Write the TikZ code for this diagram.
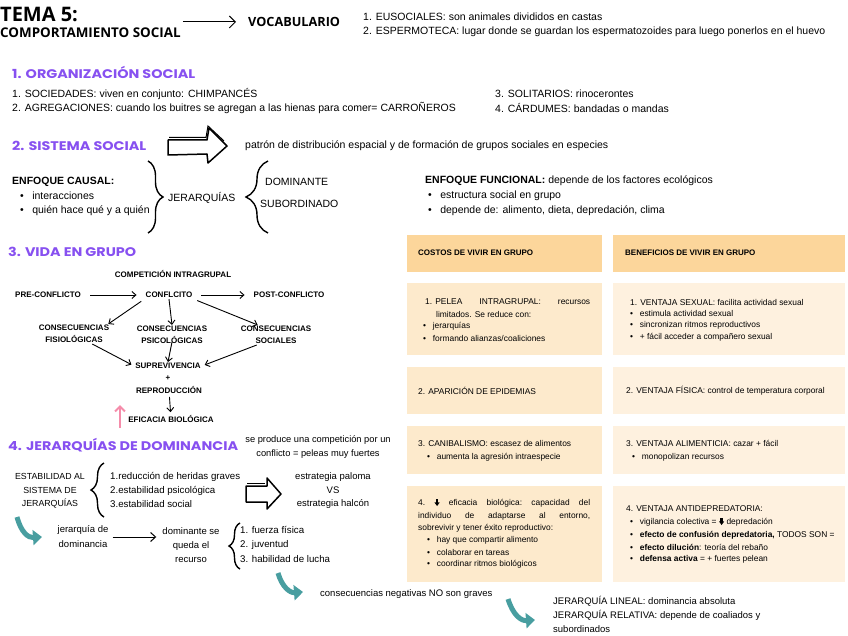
\documentclass[tikz,border=0pt]{standalone}
\usepackage{fontspec}
\setmainfont{Liberation Sans}
\newfontfamily\titlefont{Open Sans}
\newfontfamily\headfont{Poppins}[FakeStretch=1.15]
\usetikzlibrary{arrows.meta,positioning,decorations.pathreplacing}
\definecolor{HeadPurple}{RGB}{135,80,240}
\definecolor{TealArr}{RGB}{72,158,160}
\definecolor{PinkArr}{RGB}{245,140,170}
\definecolor{HeadFill}{RGB}{252,214,155}
\definecolor{CostFill}{RGB}{253,234,204}
\definecolor{BenFill}{RGB}{254,241,223}
\newcommand{\bul}{\makebox[1.15em][l]{\textbullet}}
\newcommand{\dnarr}{\tikz[baseline=0pt]{\fill (0.2pt,7pt) rectangle (2.6pt,3pt);
	\fill (-1.2pt,3.2pt) -- (4pt,3.2pt) -- (1.4pt,-0.4pt) -- cycle;}}
\tikzset{
	txt/.style={anchor=west, inner sep=0pt, font=\fontsize{10.5}{12}\selectfont},
	smtxt/.style={inner sep=0pt, align=center, font=\fontsize{9.3}{14}\selectfont},
	tabtxt/.style={anchor=west, inner sep=0pt, font=\fontsize{8.4}{9}\selectfont},
	tabhead/.style={anchor=west, inner sep=0pt, font=\bfseries\fontsize{8}{9}\selectfont},
	flow/.style={inner sep=1pt, align=center, font=\bfseries\fontsize{8}{12}\selectfont},
	head/.style={anchor=west, inner sep=0pt, text=HeadPurple, font=\headfont\bfseries\fontsize{12.5}{14}\selectfont},
	cell/.style={anchor=north west, inner sep=0pt, draw=none},
	flowarr/.style={-{Straight Barb[length=4pt,width=7pt]}, line width=0.9pt},
	tealarr/.style={draw=TealArr, line width=5pt, -{Triangle[length=9pt,width=15pt]}},
	brc/.style={decorate, decoration={brace, amplitude=#1}, line width=1.4pt},
	blockarr/.style={draw=black, line width=1.5pt, fill=white, line join=round}
}
\begin{document}
\begin{tikzpicture}[x=1pt, y=-1pt]
	\useasboundingbox (0,0) rectangle (848,636);
	% title and vocabulary
	\node[anchor=west, inner sep=0pt, font=\titlefont\bfseries\fontsize{20}{22}\selectfont] (tema) at (0,14) {TEMA 5:};
	\node[anchor=west, inner sep=0pt, font=\titlefont\bfseries\fontsize{13.4}{14}\selectfont] (compsoc) at (0,33) {COMPORTAMIENTO SOCIAL};
	\node[anchor=west, inner sep=0pt, font=\titlefont\bfseries\fontsize{12.7}{14}\selectfont] (vocab) at (248,22) {VOCABULARIO};
	\draw[-{Straight Barb[length=6pt,width=12pt]}, line width=1pt, shorten <=2pt, shorten >=12pt] (compsoc.east |- vocab.west) -- (vocab.west);
	\node[txt] (voc1) at (363,17) {1. EUSOCIALES: son animales divididos en castas};
	\node[txt] (voc2) at (363,32) {2. ESPERMOTECA: lugar donde se guardan los espermatozoides para luego ponerlos en el huevo};
	% 1. organizacion social
	\node[head] (h1) at (12,72) {1. ORGANIZACIÓN SOCIAL};
	\node[txt] (org1) at (12,94) {1. SOCIEDADES: viven en conjunto: CHIMPANCÉS};
	\node[txt] (org2) at (12,108) {2. AGREGACIONES: cuando los buitres se agregan a las hienas para comer= CARROÑEROS};
	\node[txt] (org3) at (495,94) {3. SOLITARIOS: rinocerontes};
	\node[txt] (org4) at (495,108) {4. CÁRDUMES: bandadas o mandas};
	% 2. sistema social
	\node[head] (h2) at (12,146) {2. SISTEMA SOCIAL};
	\draw[blockarr] (168,140) -- (207,140) -- (209,128) -- (227,146) -- (208,163) -- (207,154) -- (168,155) -- cycle;
	\draw[line width=1pt] (169,137.5) -- (206,137.5) -- (208,126) -- (224,141);
	\node[txt] (patron) at (245,146) {patrón de distribución espacial y de formación de grupos sociales en especies};
	\node[txt, font=\bfseries\fontsize{10.5}{12}\selectfont] (causal) at (12,182) {ENFOQUE CAUSAL:};
	\node[txt] (caus1) at (20,196) {\bul interacciones};
	\node[txt] (caus2) at (20,211) {\bul quién hace qué y a quién};
	\draw[brc=15pt] (148,161) -- (148,233);
	\node[txt] (jerarq) at (168,198) {JERARQUÍAS};
	\draw[brc=22pt] (268,233) -- (268,161);
	\node[txt] (domin) at (265,182) {DOMINANTE};
	\node[txt] (subord) at (260,204) {SUBORDINADO};
	\node[txt] (funcional) at (425,181) {\textbf{ENFOQUE FUNCIONAL:} depende de los factores ecológicos};
	\node[txt] (func1) at (428,196) {\bul estructura social en grupo};
	\node[txt] (func2) at (428,211) {\bul depende de: alimento, dieta, depredación, clima};
	% 3. vida en grupo
	\node[head] (h3) at (8,252) {3. VIDA EN GRUPO};
	\node[flow] (compet) at (173,274) {COMPETICIÓN INTRAGRUPAL};
	\node[flow] (pre) at (48,295) {PRE-CONFLICTO};
	\node[flow] (conf) at (169,295) {CONFLCITO};
	\node[flow] (post) at (289,295) {POST-CONFLICTO};
	\node[flow] (fisio) at (74,334) {CONSECUENCIAS\\FISIOLÓGICAS};
	\node[flow] (psico) at (172,335) {CONSECUENCIAS\\PSICOLÓGICAS};
	\node[flow] (soci) at (276,335) {CONSECUENCIAS\\SOCIALES};
	\node[flow] (superv) at (168,366) {SUPREVIVENCIA};
	\node[flow] (plus) at (168,378) {+};
	\node[flow] (repro) at (169,390) {REPRODUCCIÓN};
	\node[flow] (efic) at (171,419) {EFICACIA BIOLÓGICA};
	\draw[flowarr, shorten <=8pt, shorten >=8pt] (pre) -- (conf);
	\draw[flowarr, shorten <=8pt, shorten >=8pt] (conf) -- (post);
	\draw[flowarr, shorten <=4pt] (conf.south west) -- ([xshift=-2pt]fisio.north east);
	\draw[flowarr] (conf.south) -- (psico.north);
	\draw[flowarr, shorten <=4pt] (conf.south east) -- ([xshift=18pt]soci.north west);
	\draw[flowarr, shorten >=3pt] ([xshift=-18pt]fisio.south east) -- (superv.west);
	\draw[flowarr] ([yshift=3pt]psico.south) -- (superv.north);
	\draw[flowarr, shorten >=3pt] ([xshift=17pt]soci.south west) -- (superv.east);
	\draw[flowarr, shorten <=2pt, shorten >=2pt] (repro) -- (efic);
	\coordinate (pinkfrom) at (120,428);
	\coordinate (pinkto) at (120,405);
	\draw[draw=PinkArr, line width=2pt, -{Straight Barb[length=5pt,width=10pt]}] (pinkfrom) -- (pinkto);
	% costs / benefits table
	\node[cell, fill=HeadFill, minimum width=195, minimum height=37] (hcost) at (407,235) {};
	\node[cell, fill=HeadFill, minimum width=232, minimum height=37] (hben) at (613,235) {};
	\node[cell, fill=CostFill, minimum width=195, minimum height=72] (cost1) at (407,283) {};
	\node[cell, fill=BenFill, minimum width=232, minimum height=72] (ben1) at (613,283) {};
	\node[cell, fill=CostFill, minimum width=195, minimum height=47] (cost2) at (407,367) {};
	\node[cell, fill=BenFill, minimum width=232, minimum height=47] (ben2) at (613,367) {};
	\node[cell, fill=CostFill, minimum width=195, minimum height=48] (cost3) at (407,426) {};
	\node[cell, fill=BenFill, minimum width=232, minimum height=48] (ben3) at (613,426) {};
	\node[cell, fill=CostFill, minimum width=195, minimum height=96] (cost4) at (407,486) {};
	\node[cell, fill=BenFill, minimum width=232, minimum height=96] (ben4) at (613,486) {};
	\node[tabhead] (hcosttxt) at (418,253) {COSTOS DE VIVIR EN GRUPO};
	\node[tabhead] (hbentxt) at (625,253) {BENEFICIOS DE VIVIR EN GRUPO};
	\node[tabtxt] (cost1a) at (425,302) {\makebox[165pt][l]{1. PELEA\hfill INTRAGRUPAL:\hfill recursos}};
	\node[tabtxt] (cost1b) at (436,314) {limitados. Se reduce con:};
	\node[tabtxt] (cost1c) at (423,326) {\bul jerarquías};
	\node[tabtxt] (cost1d) at (423,338) {\bul formando alianzas/coaliciones};
	\node[tabtxt] (ben1a) at (630,302) {1. VENTAJA SEXUAL: facilita actividad sexual};
	\node[tabtxt] (ben1b) at (630,313) {\bul estimula actividad sexual};
	\node[tabtxt] (ben1c) at (630,325) {\bul sincronizan ritmos reproductivos};
	\node[tabtxt] (ben1d) at (630,337) {\bul + fácil acceder a compañero sexual};
	\node[tabtxt] (cost2a) at (418,391) {2. APARICIÓN DE EPIDEMIAS};
	\node[tabtxt] (ben2a) at (626,391) {2. VENTAJA FÍSICA: control de temperatura corporal};
	\node[tabtxt] (cost3a) at (418,443) {3. CANIBALISMO: escasez de alimentos};
	\node[tabtxt] (cost3b) at (427,457) {\bul aumenta la agresión intraespecie};
	\node[tabtxt] (ben3a) at (626,443) {3. VENTAJA ALIMENTICIA: cazar + fácil};
	\node[tabtxt] (ben3b) at (632,457) {\bul monopolizan recursos};
	\node[tabtxt] (cost4a) at (418,503) {\makebox[172pt][l]{4.\hfill\dnarr\hfill eficacia\hfill biológica:\hfill capacidad\hfill del}};
	\node[tabtxt] (cost4b) at (418,516) {\makebox[172pt][l]{individuo\hfill de\hfill adaptarse\hfill al\hfill entorno,}};
	\node[tabtxt] (cost4c) at (418,528) {sobrevivir y tener éxito reproductivo:};
	\node[tabtxt] (cost4d) at (427,540) {\bul hay que compartir alimento};
	\node[tabtxt] (cost4e) at (427,552) {\bul colaborar en tareas};
	\node[tabtxt] (cost4f) at (427,564) {\bul coordinar ritmos biológicos};
	\node[tabtxt] (ben4a) at (626,509) {4. VENTAJA ANTIDEPREDATORIA:};
	\node[tabtxt] (ben4b) at (630,522) {\bul vigilancia colectiva = \dnarr\ depredación};
	\node[tabtxt] (ben4c) at (630,535) {\bul \textbf{efecto de confusión depredatoria,} TODOS SON =};
	\node[tabtxt] (ben4d) at (630,547) {\bul \textbf{efecto dilución}: teoría del rebaño};
	\node[tabtxt] (ben4e) at (630,559) {\bul \textbf{defensa activa} = + fuertes pelean};
	% 4. jerarquias de dominancia
	\node[head] (h4) at (8,445) {4. JERARQUÍAS DE DOMINANCIA};
	\node[smtxt] (produce) at (318,447) {se produce una competición por un\\conflicto = peleas muy fuertes};
	\node[smtxt, font=\fontsize{8.8}{13.5}\selectfont] (estab) at (50,491) {ESTABILIDAD AL\\SISTEMA DE\\JERARQUÍAS};
	\draw[brc=13pt] (104,517) -- (104,463);
	\node[txt, font=\fontsize{9.7}{12}\selectfont] (est1) at (110,477) {1.reducción de heridas graves};
	\node[txt, font=\fontsize{9.7}{12}\selectfont] (est2) at (110,491) {2.estabilidad psicológica};
	\node[txt, font=\fontsize{9.7}{12}\selectfont] (est3) at (110,504) {3.estabilidad social};
	\draw[blockarr] (246,486) -- (267,486) -- (267,478) -- (281,494) -- (267,509) -- (267,502) -- (246,502) -- cycle;
	\draw[line width=1pt] (247,483.5) -- (265,483.5);
	\node[smtxt, font=\fontsize{9.5}{13.5}\selectfont] (estrat) at (333,491) {estrategia paloma\\VS\\estrategia halcón};
	\coordinate (teal1a) at (17,517);
	\coordinate (teal1b) at (42,537);
	\draw[tealarr] (teal1a) .. controls (21,532) and (28,538) .. (teal1b);
	\node[smtxt, font=\fontsize{9.5}{15}\selectfont] (jerdom) at (83,537) {jerarquía de\\dominancia};
	\node[smtxt, font=\fontsize{9.5}{14}\selectfont] (dquede) at (191,545) {dominante se\\queda el\\recurso};
	\draw[-{Straight Barb[length=5pt,width=9pt]}, line width=1pt, shorten <=4pt, shorten >=6pt] (jerdom) -- (jerdom -| dquede.west);
	\draw[brc=11pt] (240,569) -- (240,523);
	\node[txt, font=\fontsize{9.7}{12}\selectfont] (fac1) at (240,530) {1. fuerza física};
	\node[txt, font=\fontsize{9.7}{12}\selectfont] (fac2) at (240,545) {2. juventud};
	\node[txt, font=\fontsize{9.7}{12}\selectfont] (fac3) at (240,559) {3. habilidad de lucha};
	\coordinate (teal2a) at (278,573);
	\coordinate (teal2b) at (303,592);
	\draw[tealarr] (teal2a) .. controls (282,587) and (290,593) .. (teal2b);
	\node[txt, font=\fontsize{9.5}{12}\selectfont] (conseq) at (320,594) {consecuencias negativas NO son graves};
	\coordinate (teal3a) at (508,599);
	\coordinate (teal3b) at (535,620);
	\draw[tealarr] (teal3a) .. controls (513,615) and (521,621) .. (teal3b);
	\node[txt, font=\fontsize{9.5}{12}\selectfont] (lineal) at (553,601) {JERARQUÍA LINEAL: dominancia absoluta};
	\node[txt, font=\fontsize{9.5}{12}\selectfont] (relat1) at (553,615) {JERARQUÍA RELATIVA: depende de coaliados y};
	\node[txt, font=\fontsize{9.5}{12}\selectfont] (relat2) at (553,629) {subordinados};
\end{tikzpicture}
\end{document}
